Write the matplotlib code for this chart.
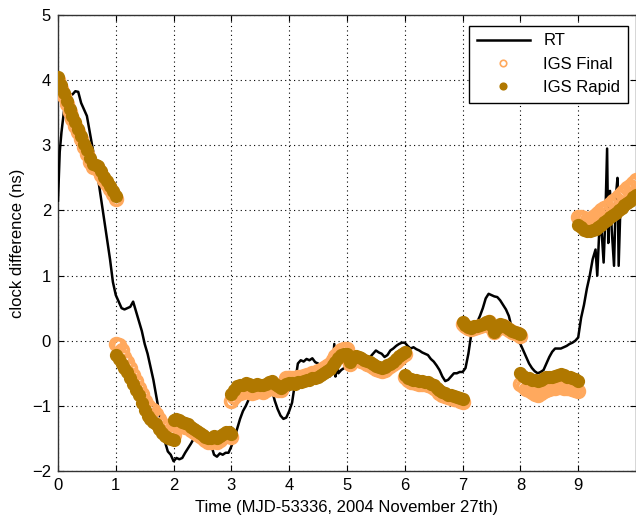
import numpy as np
import matplotlib
matplotlib.use('Agg')
import matplotlib.pyplot as plt

plt.rcParams['font.family'] = ['Liberation Sans', 'DejaVu Sans']

# RT clock difference (day, ns)
rt_t = [0.00, 0.03, 0.06, 0.10, 0.14, 0.20, 0.25, 0.30, 0.35, 0.40, 0.45, 0.50, 0.55, 0.60, 0.65,
        0.70, 0.75, 0.80, 0.85, 0.90, 0.95, 1.00, 1.05, 1.10, 1.15, 1.20, 1.25, 1.30, 1.35, 1.40,
        1.45, 1.50, 1.55, 1.60, 1.65, 1.70, 1.75, 1.80, 1.85, 1.90, 1.95, 2.00, 2.05, 2.10, 2.15,
        2.20, 2.25, 2.30, 2.35, 2.40, 2.45, 2.50, 2.55, 2.60, 2.65, 2.70, 2.75, 2.80, 2.85, 2.90,
        2.95, 3.00, 3.05, 3.10, 3.15, 3.20, 3.25, 3.30, 3.35, 3.40, 3.45, 3.50, 3.55, 3.60, 3.65,
        3.70, 3.75, 3.80, 3.85, 3.90, 3.95, 4.00, 4.05, 4.10, 4.15, 4.20, 4.25, 4.30, 4.35, 4.40,
        4.45, 4.50, 4.55, 4.60, 4.65, 4.70, 4.75, 4.78, 4.80, 4.83, 4.85, 4.90, 4.95, 5.00, 5.05,
        5.10, 5.15, 5.20, 5.25, 5.30, 5.35, 5.40, 5.45, 5.50, 5.55, 5.60, 5.65, 5.70, 5.75, 5.80,
        5.85, 5.90, 5.95, 6.00, 6.05, 6.10, 6.15, 6.20, 6.25, 6.30, 6.35, 6.40, 6.45, 6.50, 6.55,
        6.60, 6.65, 6.70, 6.75, 6.80, 6.85, 6.90, 6.95, 7.00, 7.05, 7.10, 7.15, 7.20, 7.25, 7.30,
        7.35, 7.40, 7.45, 7.50, 7.55, 7.60, 7.65, 7.70, 7.75, 7.80, 7.85, 7.90, 7.95, 8.00, 8.05,
        8.10, 8.15, 8.20, 8.25, 8.30, 8.35, 8.40, 8.45, 8.50, 8.55, 8.60, 8.65, 8.70, 8.75, 8.80,
        8.85, 8.90, 8.95, 9.00, 9.05, 9.10, 9.15, 9.20, 9.25, 9.30, 9.33, 9.36, 9.40, 9.44, 9.47,
        9.50, 9.52, 9.55, 9.58, 9.62, 9.65, 9.68, 9.70, 9.73, 9.78, 9.85, 9.90, 9.95, 10.0]
rt_v = [2.15, 2.90, 3.20, 3.50, 3.75, 3.78, 3.78, 3.83, 3.82, 3.65, 3.55, 3.45, 3.20, 2.95, 2.70,
        2.45, 2.15, 1.85, 1.55, 1.25, 0.90, 0.70, 0.60, 0.50, 0.48, 0.50, 0.52, 0.60, 0.45, 0.30,
        0.15, -0.05, -0.20, -0.40, -0.60, -0.85, -1.10, -1.35, -1.55, -1.70, -1.75, -1.85, -1.80, -1.82, -1.80,
        -1.72, -1.65, -1.58, -1.50, -1.52, -1.48, -1.50, -1.45, -1.50, -1.60, -1.75, -1.78, -1.73, -1.75, -1.72,
        -1.72, -1.62, -1.50, -1.35, -1.20, -1.08, -1.00, -0.90, -0.85, -0.80, -0.78, -0.80, -0.75, -0.72, -0.70,
        -0.75, -0.92, -1.05, -1.15, -1.20, -1.18, -1.08, -0.95, -0.65, -0.35, -0.30, -0.32, -0.28, -0.30, -0.27,
        -0.33, -0.35, -0.45, -0.50, -0.48, -0.55, -0.45, -0.05, -0.55, -0.35, -0.50, -0.45, -0.42, -0.38, -0.40,
        -0.42, -0.38, -0.40, -0.35, -0.30, -0.28, -0.25, -0.20, -0.15, -0.18, -0.20, -0.25, -0.22, -0.15, -0.12,
        -0.08, -0.05, -0.03, -0.03, -0.08, -0.12, -0.10, -0.13, -0.15, -0.18, -0.20, -0.22, -0.28, -0.32, -0.38,
        -0.45, -0.55, -0.62, -0.60, -0.55, -0.50, -0.50, -0.48, -0.48, -0.42, -0.20, 0.10, 0.20, 0.28, 0.38,
        0.50, 0.65, 0.72, 0.70, 0.68, 0.67, 0.62, 0.55, 0.48, 0.38, 0.20, 0.08, 0.00, -0.05, -0.15,
        -0.25, -0.35, -0.42, -0.47, -0.50, -0.48, -0.45, -0.35, -0.25, -0.17, -0.12, -0.12, -0.12, -0.10, -0.08,
        -0.05, -0.03, 0.00, 0.05, 0.35, 0.55, 0.80, 1.00, 1.25, 1.40, 1.00, 1.60, 1.75, 1.20, 1.90,
        2.95, 1.50, 2.30, 1.70, 1.15, 2.20, 2.50, 1.15, 2.05, 2.05, 2.10, 2.15, 2.20, 2.30]

# IGS samples: each day starts a new product, sampled every 0.05 day
sample_offsets = [0.00, 0.05, 0.10, 0.15, 0.20, 0.25, 0.30, 0.35, 0.40, 0.45, 0.50,
                  0.55, 0.60, 0.65, 0.70, 0.75, 0.80, 0.85, 0.90, 0.95, 1.00]
days = [0, 1, 2, 3, 4, 5, 6, 7, 8, 9]

igs_rapid = [
    [4.05, 3.92, 3.80, 3.68, 3.56, 3.45, 3.35, 3.25, 3.15, 3.02, 2.92, 2.80, 2.72, 2.70, 2.68, 2.60, 2.52, 2.45, 2.38, 2.30, 2.22],
    [-0.22, -0.28, -0.35, -0.42, -0.48, -0.57, -0.66, -0.75, -0.84, -0.95, -1.07, -1.15, -1.20, -1.25, -1.28, -1.36, -1.42, -1.46, -1.49, -1.51, -1.53],
    [-1.22, -1.20, -1.22, -1.25, -1.27, -1.28, -1.32, -1.35, -1.38, -1.42, -1.45, -1.48, -1.50, -1.50, -1.47, -1.50, -1.47, -1.43, -1.40, -1.40, -1.43],
    [-0.82, -0.75, -0.70, -0.68, -0.68, -0.65, -0.67, -0.70, -0.68, -0.66, -0.68, -0.68, -0.67, -0.64, -0.62, -0.66, -0.70, -0.72, -0.70, -0.66, -0.65],
    [-0.66, -0.65, -0.66, -0.64, -0.64, -0.62, -0.60, -0.60, -0.58, -0.57, -0.55, -0.53, -0.50, -0.47, -0.44, -0.38, -0.32, -0.27, -0.22, -0.20, -0.20],
    [-0.22, -0.32, -0.26, -0.24, -0.25, -0.27, -0.29, -0.31, -0.33, -0.36, -0.39, -0.41, -0.42, -0.41, -0.38, -0.35, -0.32, -0.28, -0.24, -0.20, -0.17],
    [-0.52, -0.57, -0.59, -0.60, -0.61, -0.62, -0.62, -0.63, -0.64, -0.66, -0.68, -0.72, -0.76, -0.79, -0.81, -0.83, -0.84, -0.85, -0.86, -0.88, -0.90],
    [0.28, 0.24, 0.21, 0.20, 0.22, 0.23, 0.24, 0.26, 0.28, 0.30, 0.22, 0.14, 0.20, 0.25, 0.24, 0.21, 0.18, 0.15, 0.14, 0.12, 0.10],
    [-0.50, -0.54, -0.57, -0.58, -0.60, -0.61, -0.62, -0.60, -0.58, -0.56, -0.55, -0.55, -0.54, -0.52, -0.51, -0.53, -0.55, -0.56, -0.57, -0.59, -0.62],
    [1.77, 1.74, 1.70, 1.68, 1.68, 1.70, 1.72, 1.74, 1.78, 1.82, 1.86, 1.90, 1.93, 1.96, 2.00, 2.04, 2.08, 2.12, 2.15, 2.20, 2.24],
]
igs_final = [
    [4.00, 3.87, 3.75, 3.63, 3.51, 3.40, 3.30, 3.20, 3.10, 2.97, 2.87, 2.75, 2.67, 2.65, 2.63, 2.55, 2.47, 2.40, 2.33, 2.25, 2.17],
    [-0.05, -0.07, -0.15, -0.25, -0.33, -0.42, -0.52, -0.62, -0.72, -0.82, -0.92, -1.00, -1.05, -1.07, -1.12, -1.20, -1.28, -1.33, -1.38, -1.42, -1.45],
    [-1.27, -1.25, -1.27, -1.30, -1.32, -1.33, -1.37, -1.40, -1.43, -1.47, -1.50, -1.53, -1.55, -1.55, -1.52, -1.55, -1.52, -1.48, -1.45, -1.45, -1.48],
    [-0.93, -0.86, -0.82, -0.80, -0.79, -0.77, -0.78, -0.80, -0.78, -0.76, -0.77, -0.78, -0.76, -0.72, -0.70, -0.74, -0.76, -0.76, -0.66, -0.58, -0.57],
    [-0.58, -0.57, -0.58, -0.56, -0.56, -0.54, -0.52, -0.52, -0.50, -0.49, -0.47, -0.45, -0.42, -0.39, -0.36, -0.30, -0.24, -0.19, -0.14, -0.12, -0.12],
    [-0.26, -0.36, -0.30, -0.28, -0.29, -0.31, -0.33, -0.35, -0.37, -0.40, -0.43, -0.45, -0.46, -0.45, -0.42, -0.39, -0.36, -0.32, -0.28, -0.24, -0.21],
    [-0.56, -0.61, -0.63, -0.64, -0.65, -0.66, -0.66, -0.67, -0.68, -0.70, -0.72, -0.76, -0.80, -0.83, -0.85, -0.87, -0.88, -0.89, -0.90, -0.92, -0.94],
    [0.26, 0.22, 0.19, 0.18, 0.20, 0.21, 0.22, 0.24, 0.26, 0.28, 0.20, 0.13, 0.18, 0.23, 0.22, 0.20, 0.17, 0.14, 0.12, 0.10, 0.08],
    [-0.66, -0.70, -0.74, -0.76, -0.79, -0.82, -0.83, -0.80, -0.77, -0.75, -0.74, -0.73, -0.72, -0.71, -0.71, -0.72, -0.73, -0.73, -0.74, -0.75, -0.77],
    [1.90, 1.90, 1.88, 1.86, 1.87, 1.90, 1.93, 1.96, 2.00, 2.03, 2.06, 2.10, 2.14, 2.18, 2.22, 2.26, 2.30, 2.34, 2.38, 2.42, 2.46],
]

final_color = '#FFA95E'
rapid_color = '#B07800'

fig = plt.figure(figsize=(6.36, 5.21), dpi=100)
ax = fig.add_axes([58 / 636, 50 / 521, 578 / 636, 456 / 521])

igs_t = np.concatenate([np.array(sample_offsets) + d for d in days])
final_v = np.concatenate(igs_final)
rapid_v = np.concatenate(igs_rapid)

ax.plot(rt_t, rt_v, color='black', lw=1.8, label='RT', zorder=3)
ax.plot(igs_t, final_v, 'o', ls='none', mfc='none', mec=final_color, mew=2.6, ms=8.5,
        label='IGS Final', zorder=4)
ax.plot(igs_t, rapid_v, 'o', ls='none', mfc=rapid_color, mec=rapid_color, ms=8.5,
        label='IGS Rapid', zorder=5)

ax.set_xlim(0, 10)
ax.set_ylim(-2, 5)
ax.set_xticks(range(0, 10))
ax.set_yticks(range(-2, 6))
ax.grid(True, color='black', ls=(0, (1, 3)), lw=0.8)
ax.tick_params(direction='in', top=True, right=True, length=4, labelsize=12, pad=5)
for s in ax.spines.values():
    s.set_linewidth(1.0)
    s.set_color('#333333')

ax.set_xlabel('Time (MJD-53336, 2004 November 27th)', fontsize=12, labelpad=5)
ax.set_ylabel('clock difference (ns)', fontsize=12, labelpad=5)

leg = ax.legend(loc='upper right', bbox_to_anchor=(0.986, 0.976), borderaxespad=0,
                fancybox=False, edgecolor='black', framealpha=1, fontsize=12,
                handlelength=3.2, markerscale=0.55, borderpad=0.45, labelspacing=0.5)
leg.get_frame().set_linewidth(1.0)
for h in leg.legend_handles[1:]:
    h.set_markeredgewidth(1.2)

fig.savefig('out.png', dpi=100)
